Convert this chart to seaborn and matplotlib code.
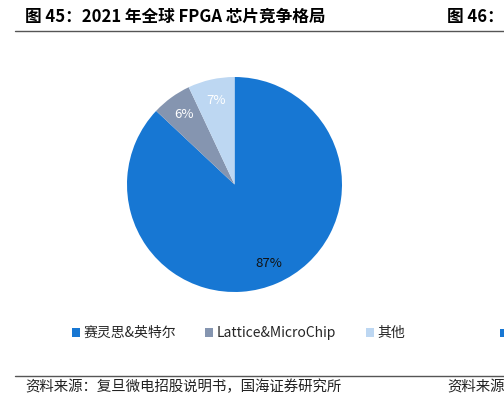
import matplotlib
matplotlib.use("Agg")
import numpy as np
import matplotlib.pyplot as plt
import seaborn as sns
from matplotlib.lines import Line2D
from matplotlib.patches import Patch, Rectangle

# chart data
vendors = ["赛灵思&英特尔", "Lattice&MicroChip", "其他"]
shares = [87, 6, 7]
share_labels = ["87%", "6%", "7%"]
colors = ["#1777D3", "#8595B0", "#BDD7F2"]
label_colors = ["#111111", "white", "white"]

title_text = "图 45：2021 年全球 FPGA 芯片竞争格局"
next_title = "图 46：2"
source_text = "资料来源：复旦微电招股说明书，国海证券研究所"
next_source = "资料来源"

sns.set_theme(style="white")
plt.rcParams['font.family'] = ['Noto Sans CJK SC', 'DejaVu Sans']

W, H = 504, 399
fig = plt.figure(figsize=(W / 100, H / 100), dpi=100)
fig.patch.set_facecolor("white")

# pie axes, centred at about (234, 185) px with radius ~108 px
ax = fig.add_axes([127 / W, 1 - 292 / H, 215 / W, 215 / H])
wedges, texts = ax.pie(shares, colors=colors, startangle=90, counterclock=False,
                       wedgeprops=dict(linewidth=0))
for w, lab, c in zip(wedges, share_labels, label_colors):
    ang = np.deg2rad((w.theta1 + w.theta2) / 2)
    ax.text(0.8 * np.cos(ang), 0.8 * np.sin(ang), lab, ha="center", va="center",
            fontsize=9.5, color=c)
ax.set_xlim(-1, 1)
ax.set_ylim(-1, 1)
ax.set_aspect("equal")
ax.axis("off")

# legend
handles = [Patch(facecolor=c, edgecolor="none") for c in colors]
fig.legend(handles, vendors, loc="center left", bbox_to_anchor=(66 / W, 1 - 333 / H),
           ncol=3, frameon=False, fontsize=10, handlelength=0.6, handleheight=0.6,
           handletextpad=0.25, columnspacing=2.1, borderaxespad=0)
fig.add_artist(Rectangle((500 / W, 1 - 337 / H), 8 / W, 8 / H, transform=fig.transFigure,
                         facecolor=colors[0], edgecolor="none"))

# titles and rules
fig.text(25 / W, 1 - 17 / H, title_text, fontsize=12, fontweight="bold", va="center", color="black")
fig.text(447 / W, 1 - 17 / H, next_title, fontsize=12, fontweight="bold", va="center", color="black")
fig.add_artist(Line2D([15 / W, 1], [1 - 31 / H, 1 - 31 / H], color="#555555", lw=1))
fig.add_artist(Line2D([15 / W, 1], [1 - 376 / H, 1 - 376 / H], color="#555555", lw=1))
fig.text(25 / W, 1 - 387 / H, source_text, fontsize=10.4, va="center", color="#222222")
fig.text(447 / W, 1 - 387 / H, next_source, fontsize=10.4, va="center", color="#222222")

fig.savefig("out.png", dpi=100)
